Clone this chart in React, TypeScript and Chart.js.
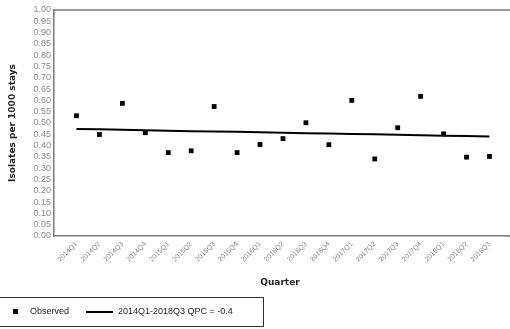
import React, { useEffect, useRef } from "react";
import { Chart, registerables } from "chart.js";

Chart.register(...registerables);

const quarters = [
  "2014Q1", "2014Q2", "2014Q3", "2014Q4",
  "2015Q1", "2015Q2", "2015Q3", "2015Q4",
  "2016Q1", "2016Q2", "2016Q3", "2016Q4",
  "2017Q1", "2017Q2", "2017Q3", "2017Q4",
  "2018Q1", "2018Q2", "2018Q3",
];

const observed = [
  0.532, 0.449, 0.587, 0.457,
  0.369, 0.377, 0.573, 0.369,
  0.405, 0.431, 0.501, 0.404,
  0.600, 0.341, 0.479, 0.618,
  0.452, 0.349, 0.352,
];

const trend = [
  0.474, 0.472, 0.470, 0.468,
  0.466, 0.464, 0.462, 0.461,
  0.459, 0.457, 0.455, 0.453,
  0.451, 0.450, 0.448, 0.446,
  0.444, 0.442, 0.440,
];

const observedLabel = "Observed";
const trendLabel = "2014Q1-2018Q3 QPC = -0.4";
const xTitle = "Quarter";
const yTitle = "Isolates per 1000 stays";

const topBorder = {
  id: "topBorder",
  afterDraw(chart: any) {
    const { ctx, chartArea } = chart;
    ctx.save();
    ctx.strokeStyle = "#7a7a7a";
    ctx.lineWidth = 1.5;
    ctx.beginPath();
    ctx.moveTo(chartArea.left, chartArea.top);
    ctx.lineTo(chart.width, chartArea.top);
    ctx.moveTo(chartArea.right, chartArea.bottom);
    ctx.lineTo(chart.width, chartArea.bottom);
    ctx.stroke();
    ctx.restore();
  },
};

export default function App() {
  const ref = useRef<HTMLCanvasElement>(null);

  useEffect(() => {
    if (!ref.current) return;
    const chart = new Chart(ref.current, {
      type: "scatter",
      data: {
        datasets: [
          {
            type: "line",
            label: trendLabel,
            data: trend.map((v, i) => ({ x: i, y: v })),
            borderColor: "#000",
            borderWidth: 2,
            pointRadius: 0,
            fill: false,
          } as any,
          {
            label: observedLabel,
            data: observed.map((v, i) => ({ x: i, y: v })),
            pointStyle: "rect",
            pointRadius: 3.4,
            backgroundColor: "#000",
            borderColor: "#000",
            borderWidth: 0,
          },
        ],
      },
      plugins: [topBorder],
      options: {
        animation: false,
        responsive: false,
        maintainAspectRatio: false,
        layout: { padding: { top: 10, right: 0, bottom: 37, left: 0 } },
        plugins: {
          legend: { display: false },
          tooltip: { enabled: false },
        },
        scales: {
          x: {
            type: "linear",
            min: -0.98,
            max: 18.72,
            grid: { display: false, drawTicks: false },
            border: { display: true, color: "#7a7a7a", width: 1.5 },
            afterBuildTicks: (scale: any) => {
              scale.ticks = quarters.map((_, i) => ({ value: i }));
            },
            afterFit: (scale: any) => {
              scale.height = 56;
              scale.paddingLeft = 0;
              scale.paddingRight = 0;
            },
            ticks: {
              autoSkip: false,
              maxRotation: 45,
              minRotation: 45,
              padding: 4,
              color: "#8a8a8a",
              font: { family: "Liberation Sans", size: 7 },
              callback: (v: any) => quarters[v] ?? "",
            },
            title: {
              display: true,
              text: xTitle,
              color: "#222",
              font: { family: "DejaVu Sans", size: 9, weight: "bold" },
              padding: { top: 4, bottom: 4 },
            },
          },
          y: {
            min: 0,
            max: 1,
            grid: { display: false, drawTicks: false },
            border: { display: true, color: "#7a7a7a", width: 1.5 },
            afterFit: (scale: any) => {
              scale.width = 54;
              scale.paddingTop = 0;
              scale.paddingBottom = 0;
            },
            ticks: {
              stepSize: 0.05,
              autoSkip: false,
              padding: 3,
              color: "#8a8a8a",
              font: { family: "Liberation Sans", size: 9 },
              callback: (v: any) => Number(v).toFixed(2),
            },
            title: {
              display: true,
              text: yTitle,
              color: "#222",
              font: { family: "DejaVu Sans", size: 9, weight: "bold" },
              padding: { top: 7, bottom: 4 },
            },
          },
        },
      },
    });
    return () => chart.destroy();
  }, []);

  return (
    <div style={{ position: "fixed", left: 0, top: 0, width: 510, height: 329, background: "#fff", overflow: "hidden" }}>
      <canvas ref={ref} width={510} height={329} style={{ position: "absolute", left: 0, top: 0, width: 510, height: 329 }} />
      <div
        style={{
          position: "absolute",
          left: -2,
          top: 297,
          width: 266,
          height: 30,
          border: "1.5px solid #333",
          boxSizing: "border-box",
          fontFamily: "Liberation Sans",
          fontSize: 9,
          color: "#222",
        }}
      >
        <div style={{ position: "absolute", left: 14, top: 11, width: 5, height: 5, background: "#000" }} />
        <div style={{ position: "absolute", left: 31, top: 7.5, whiteSpace: "nowrap" }}>{observedLabel}</div>
        <div style={{ position: "absolute", left: 87, top: 12.5, width: 27, height: 2, background: "#000" }} />
        <div style={{ position: "absolute", left: 119, top: 7.5, whiteSpace: "nowrap" }}>{trendLabel}</div>
      </div>
    </div>
  );
}
